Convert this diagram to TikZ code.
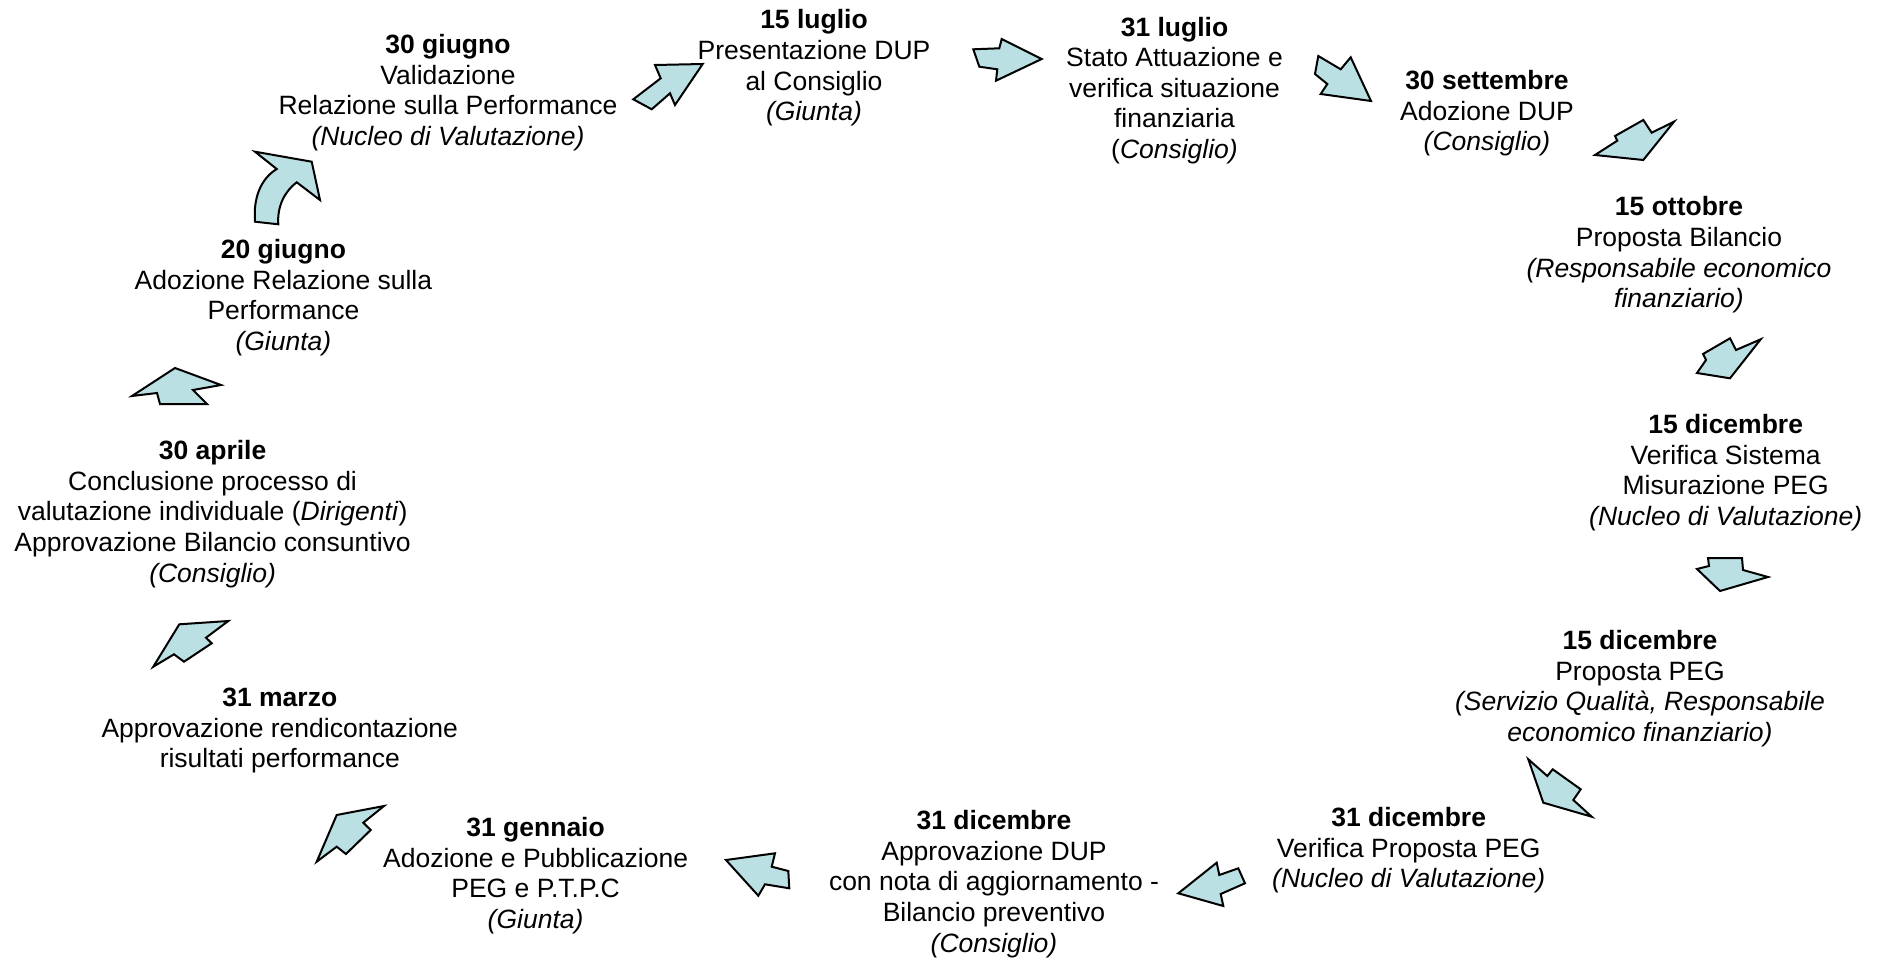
\documentclass[tikz,border=0pt]{standalone}
\usepackage{fontspec}
\setmainfont{Liberation Sans}
\definecolor{arrowfill}{HTML}{BBE0E3}
\begin{document}
\begin{tikzpicture}[x=1pt,y=-1pt,
  lbl/.style={align=center, inner sep=0pt, font=\fontsize{26.5}{30.6}\selectfont},
  arr/.style={draw=black, line width=2pt, fill=arrowfill, line join=miter}]
\useasboundingbox (0,0) rectangle (1883,958);
% text blocks
\node[lbl] (a) at (448,92.5) {\textbf{30 giugno}\\Validazione\\Relazione sulla Performance\\\textit{(Nucleo di Valutazione)}};
\node[lbl] (b) at (814,68) {\textbf{15 luglio}\\Presentazione DUP\\al Consiglio\\\textit{(Giunta)}};
\node[lbl] (c) at (1174.5,90.5) {\textbf{31 luglio}\\Stato Attuazione e\\verifica situazione\\finanziaria\\(\textit{Consiglio)}};
\node[lbl] (d) at (1487,113.5) {\textbf{30 settembre}\\Adozione DUP\\\textit{(Consiglio)}};
\node[lbl] (e) at (1679,255) {\textbf{15 ottobre}\\Proposta Bilancio\\\textit{(Responsabile economico}\\\textit{finanziario)}};
\node[lbl] (f) at (1725.7,472.5) {\textbf{15 dicembre}\\Verifica Sistema\\Misurazione PEG\\\textit{(Nucleo di Valutazione)}};
\node[lbl] (g) at (1640,688.5) {\textbf{15 dicembre}\\Proposta PEG\\\textit{(Servizio Qualità, Responsabile}\\\textit{economico finanziario)}};
\node[lbl] (h) at (1408.7,850.5) {\textbf{31 dicembre}\\Verifica Proposta PEG\\\textit{(Nucleo di Valutazione)}};
\node[lbl] (i) at (994,884) {\textbf{31 dicembre}\\Approvazione DUP\\con nota di aggiornamento -\\Bilancio preventivo\\\textit{(Consiglio)}};
\node[lbl] (j) at (535.6,875.5) {\textbf{31 gennaio}\\Adozione e Pubblicazione\\PEG e P.T.P.C\\\textit{(Giunta)}};
\node[lbl] (k) at (279.8,730.5) {\textbf{31 marzo}\\Approvazione rendicontazione\\risultati performance};
\node[lbl] (l) at (212.6,514) {\textbf{30 aprile}\\Conclusione processo di\\valutazione individuale (\textit{Dirigenti})\\Approvazione Bilancio consuntivo\\\textit{(Consiglio)}};
\node[lbl] (m) at (283.4,297.5) {\textbf{20 giugno}\\Adozione Relazione sulla\\Performance\\\textit{(Giunta)}};
% arrows
\draw[arr] (655,65) -- (702.7,64) -- (675,105) -- (670,93.3) -- (651.7,109.3) -- (633.3,99.3) -- (660.7,78.3) -- cycle;
\draw[arr] (973.3,49.3) -- (999.3,48.3) -- (1001.7,39) -- (1041.7,59) -- (996,80.7) -- (997.3,69.3) -- (979.3,66.7) -- cycle;
\draw[arr] (1318.3,56) -- (1340.7,69.3) -- (1350.7,57.3) -- (1371,101) -- (1320.7,94) -- (1327.3,84) -- (1315,74) -- cycle;
\draw[arr] (1595,155) -- (1617.3,140.7) -- (1615,136) -- (1643.3,120) -- (1651.7,132.7) -- (1674,121.7) -- (1643.3,160) -- cycle;
\draw[arr] (1697,373) -- (1706,360) -- (1703,354) -- (1730,338.3) -- (1736,350) -- (1760.7,339.3) -- (1730,378.3) -- cycle;
\draw[arr] (1708,558) -- (1742,558) -- (1743,570) -- (1768,577) -- (1720,591) -- (1697,569) -- (1709,566) -- cycle;
\draw[arr] (1528.3,759.3) -- (1547.3,776) -- (1552.7,769.3) -- (1580.7,789.3) -- (1573.3,800) -- (1591.7,816.7) -- (1543.3,802.7) -- cycle;
\draw[arr] (1178.3,893.3) -- (1216.7,862.7) -- (1219.3,875) -- (1238.3,868.3) -- (1245,883.3) -- (1220.7,894) -- (1223.3,906) -- cycle;
\draw[arr] (726,860) -- (775,853.3) -- (771.7,866.7) -- (788.3,871) -- (789.3,888.3) -- (765,884.3) -- (758.3,895.7) -- cycle;
\draw[arr] (316.7,861.7) -- (336.7,815) -- (384,806) -- (363.3,822.7) -- (370.7,830) -- (346,854) -- (336.7,846.7) -- cycle;
\draw[arr] (153.3,666.7) -- (179.3,624.3) -- (228.3,621) -- (206,637.7) -- (211.7,643.3) -- (184,661.7) -- (174,654.3) -- cycle;
\draw[arr] (132,396) -- (175,368) -- (221,385) -- (193,390) -- (207,404) -- (160,404) -- (157,393) -- cycle;
\draw[arr] (255,221.7) .. controls (253,196) and (262,178) .. (276.7,169) -- (255,151.7) -- (311.7,161.7) -- (320,200) -- (296.7,182.3) .. controls (285,191) and (277,206) .. (278.3,224.3) -- cycle;
\end{tikzpicture}
\end{document}
